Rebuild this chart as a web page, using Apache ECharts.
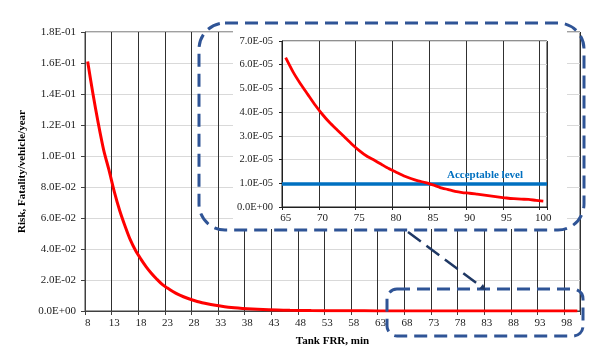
<!DOCTYPE html>
<html>
<head>
<meta charset="utf-8">
<script src="https://cdn.jsdelivr.net/npm/echarts@6/dist/echarts.min.js"></script>
<style>html,body{margin:0;padding:0;background:#fff}#c{width:602px;height:355px}</style>
</head>
<body>
<div id="c"></div>
<script>
// Tank FRR categories, min (8..100)
const frrCategories = [8,9,10,11,12,13,14,15,16,17,18,19,20,21,22,23,24,25,26,27,28,29,30,31,32,33,34,35,36,37,38,39,40,41,42,43,44,45,46,47,48,49,50,51,52,53,54,55,56,57,58,59,60,61,62,63,64,65,66,67,68,69,70,71,72,73,74,75,76,77,78,79,80,81,82,83,84,85,86,87,88,89,90,91,92,93,94,95,96,97,98,99,100];
// Risk, FRR 8..64 (null = not read)
const riskMain = [
  0.161,0.140,0.121,0.104,0.091,0.077,0.065,0.055,0.046,0.039,
  0.0335,0.0285,0.0242,0.0205,0.0172,0.0148,0.0126,0.0107,0.0092,0.0079,
  0.0068,0.0058,0.0050,null,0.0037,null,null,0.0022,null,null,
  0.0014,null,null,null,0.00076,null,null,null,0.00043,null,
  null,null,0.00025,null,null,null,null,0.00014,null,null,
  null,null,0.000092,null,null,null,null
];
// Risk, FRR 65..100
const riskInset = [
  6.3e-5,5.7e-5,5.2e-5,4.75e-5,4.3e-5,3.9e-5,3.55e-5,3.25e-5,2.95e-5,2.65e-5,
  2.38e-5,2.15e-5,1.98e-5,1.8e-5,1.62e-5,1.47e-5,1.32e-5,1.2e-5,1.1e-5,1.03e-5,
  0.93e-5,0.82e-5,0.74e-5,0.66e-5,0.61e-5,0.58e-5,0.54e-5,0.5e-5,0.46e-5,0.42e-5,
  0.38e-5,0.35e-5,0.33e-5,0.32e-5,0.28e-5,0.25e-5
];
const acceptableLevel = 1.0e-5;
const mainYMax = 0.18, mainYStep = 0.02;
const insetYMax = 7e-5, insetYStep = 1e-5;

// inset axis works in units of 1E-05 (labels converted back) to avoid marker rounding of tiny values
const insetUnit = 1e-5;
const insetCategories = frrCategories.slice(frrCategories.indexOf(65));
const riskAll = riskMain.concat(riskInset);
const riskInsetScaled = riskInset.map(v => v / insetUnit);

function sci(v){
  if (Math.abs(v) < 1e-15) return '0.0E+00';
  const p = v.toExponential(1).split('e');
  const e = parseInt(p[1],10);
  const a = Math.abs(e);
  return p[0] + 'E' + (e<0?'-':'+') + (a<10?'0':'') + a;
}

const FONT = 'Liberation Serif';
const axisCol = '#404040';
const chart = echarts.init(document.getElementById('c'), null, {renderer:'canvas'});
chart.setOption({
  animation:false,
  backgroundColor:'#fff',
  grid:[
    {left:85, top:32, width:495, height:279, show:true, borderColor:axisCol, borderWidth:1, z:0},
    {left:282, top:41, width:265, height:166, show:true, borderColor:'#202020', borderWidth:1, backgroundColor:'#fff', z:6}
  ],
  xAxis:[
    {type:'category', gridIndex:0, data:frrCategories, boundaryGap:true,
     name:'Tank FRR, min', nameLocation:'middle', nameGap:25,
     nameTextStyle:{fontFamily:FONT, fontWeight:'bold', fontSize:11, color:'#000'},
     axisLine:{lineStyle:{color:axisCol, width:1}},
     axisTick:{show:true, interval:4, length:4, lineStyle:{color:axisCol}},
     axisLabel:{interval:4, margin:7, fontFamily:FONT, fontSize:11, color:'#222'},
     splitLine:{show:true, interval:4, lineStyle:{color:'#303030', width:1}}},
    {type:'category', gridIndex:1, data:insetCategories, boundaryGap:true, z:7,
     axisLine:{lineStyle:{color:'#202020', width:1}},
     axisTick:{show:true, interval:4, length:3, lineStyle:{color:'#202020'}},
     axisLabel:{interval:4, margin:6, fontFamily:FONT, fontSize:11, color:'#222'},
     splitLine:{show:true, interval:4, lineStyle:{color:'#303030', width:1}}}
  ],
  yAxis:[
    {type:'value', gridIndex:0, min:0, max:mainYMax, interval:mainYStep,
     name:'Risk, Fatality/vehicle/year', nameLocation:'middle', nameGap:49, nameRotate:90,
     nameTextStyle:{fontFamily:FONT, fontWeight:'bold', fontSize:11, color:'#000'},
     axisLine:{show:true, lineStyle:{color:axisCol, width:1}},
     axisTick:{show:true, length:4, lineStyle:{color:axisCol}},
     axisLabel:{formatter:sci, margin:9, fontFamily:FONT, fontSize:11, color:'#222'},
     splitLine:{show:true, lineStyle:{color:'#d9d9d9', width:1}}},
    {type:'value', gridIndex:1, min:0, max:insetYMax/insetUnit, interval:insetYStep/insetUnit, z:7,
     axisLine:{show:true, lineStyle:{color:'#202020', width:1}},
     axisTick:{show:true, length:3, lineStyle:{color:'#202020'}},
     axisLabel:{formatter:v => sci(v*insetUnit), margin:9, fontFamily:FONT, fontSize:10.5, color:'#222'},
     splitLine:{show:true, lineStyle:{color:'#d9d9d9', width:1}}}
  ],
  series:[
    {type:'line', xAxisIndex:0, yAxisIndex:0, data:riskAll, connectNulls:true, smooth:0.3,
     symbol:'none', lineStyle:{color:'#ff0000', width:3}, z:2},
    {type:'line', xAxisIndex:1, yAxisIndex:1, data:riskInsetScaled, smooth:0.2,
     symbol:'none', lineStyle:{color:'#ff0000', width:2.8}, z:9,
     markLine:{silent:true, z:8, symbol:['none','none'], animation:false,
       lineStyle:{color:'#0070C0', width:3.5, type:'solid'},
       label:{show:true, position:'insideEndTop', formatter:'Acceptable level', distance:[24,3],
         fontFamily:FONT, fontWeight:'bold', fontSize:11, color:'#0070C0'},
       data:[{yAxis:acceptableLevel/insetUnit}]}}
  ],
  graphic:[
    {type:'rect', z:5, shape:{x:233, y:24, width:334, height:205}, style:{fill:'#fff'}},
    {type:'rect', z:20, shape:{x:199, y:23, width:385, height:207, r:26},
     style:{fill:null, stroke:'#2F5496', lineWidth:3, lineDash:[13,7]}},
    {type:'rect', z:20, shape:{x:387, y:289, width:196, height:47, r:10},
     style:{fill:null, stroke:'#2F5496', lineWidth:3, lineDash:[13,7]}},
    {type:'line', z:20, shape:{x1:408, y1:232, x2:483, y2:288},
     style:{stroke:'#1F3864', lineWidth:2.5, lineDash:[16,7]}},
    {type:'polygon', z:20, shape:{points:[[486,290],[479,289],[483,284]]},
     style:{fill:'#1F3864'}}
  ]
});
</script>
</body>
</html>
